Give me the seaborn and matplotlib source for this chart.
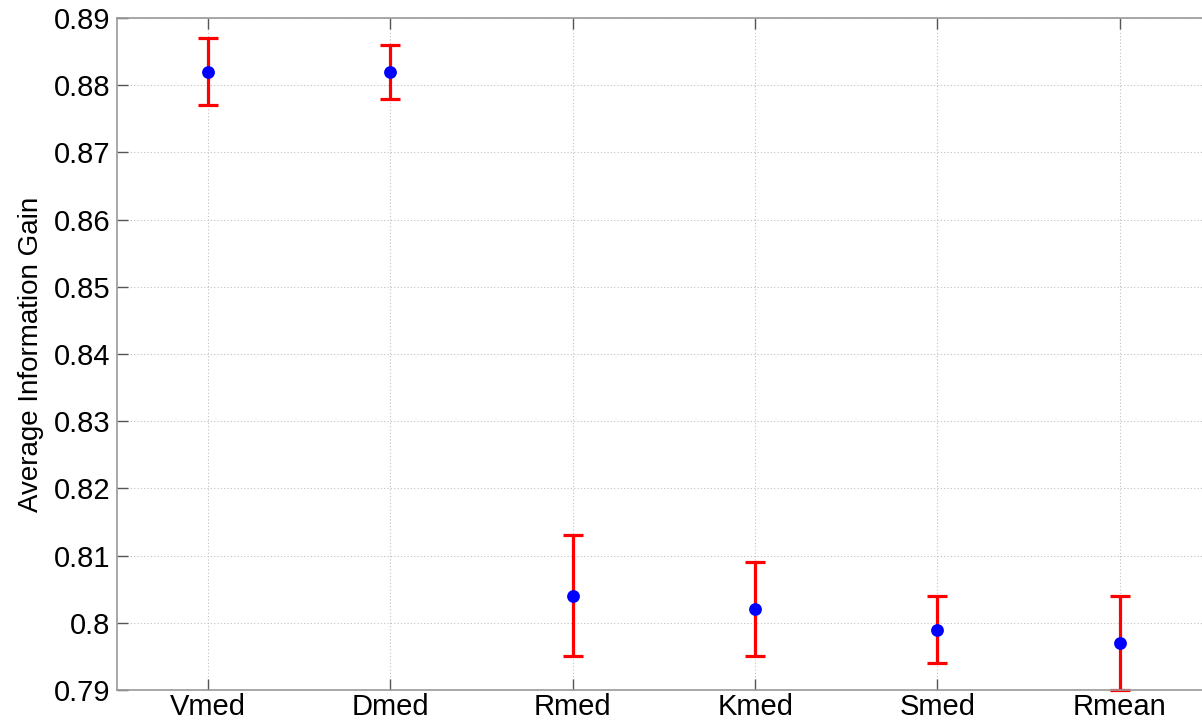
import matplotlib
matplotlib.use("Agg")
import matplotlib.pyplot as plt
import seaborn as sns
import pandas as pd

# values
methods = ["Vmed", "Dmed", "Rmed", "Kmed", "Smed", "Rmean"]
means = [0.882, 0.882, 0.804, 0.802, 0.799, 0.797]
upper = [0.887, 0.886, 0.813, 0.809, 0.804, 0.804]
lower = [0.877, 0.878, 0.795, 0.795, 0.794, 0.790]
yticks = [0.79, 0.80, 0.81, 0.82, 0.83, 0.84, 0.85, 0.86, 0.87, 0.88, 0.89]
ytick_labels = ["0.79", "0.8", "0.81", "0.82", "0.83", "0.84", "0.85", "0.86", "0.87", "0.88", "0.89"]

sns.set_style("white")
plt.rcParams['font.family'] = ['Liberation Sans', 'DejaVu Sans']
plt.rcParams['text.color'] = 'black'
plt.rcParams['axes.labelcolor'] = 'black'

df = pd.DataFrame({'Method': methods, 'Gain': means, 'Upper': upper, 'Lower': lower})
df['x'] = range(len(df))

fig = plt.figure(figsize=(12.02, 7.22), dpi=100)
ax = fig.add_axes([0.0973, 0.0443, 0.9102, 0.9307])

ax.errorbar(df['x'], df['Gain'],
            yerr=[df['Gain'] - df['Lower'], df['Upper'] - df['Gain']],
            fmt='none', ecolor='red', elinewidth=2.3, capsize=7.5, capthick=2.3,
            clip_on=False, zorder=2)
sns.scatterplot(data=df, x='x', y='Gain', ax=ax, color='blue', s=85,
                edgecolor='blue', linewidth=0, zorder=3, clip_on=False)

ax.set_xlim(-0.5, 5.5)
ax.set_ylim(0.79, 0.89)
ax.set_xticks(df['x'])
ax.set_xticklabels(methods)
ax.set_yticks(yticks)
ax.set_yticklabels(ytick_labels)
ax.set_xlabel('')
ax.set_ylabel('Average Information Gain', fontsize=20, labelpad=7)

ax.grid(True, linestyle=(0, (1, 2)), color='#c0c0c0', linewidth=0.8)
ax.tick_params(axis='both', direction='in', length=8, width=1, color='#555555',
               labelsize=21, labelcolor='black', top=True, left=True,
               bottom=True, right=False, pad=5)
ax.tick_params(axis='x', pad=2)
for side in ['left', 'bottom', 'top']:
    ax.spines[side].set_color('#999999')
    ax.spines[side].set_linewidth(1.2)
ax.spines['right'].set_visible(False)

fig.savefig('out.png', dpi=100)
